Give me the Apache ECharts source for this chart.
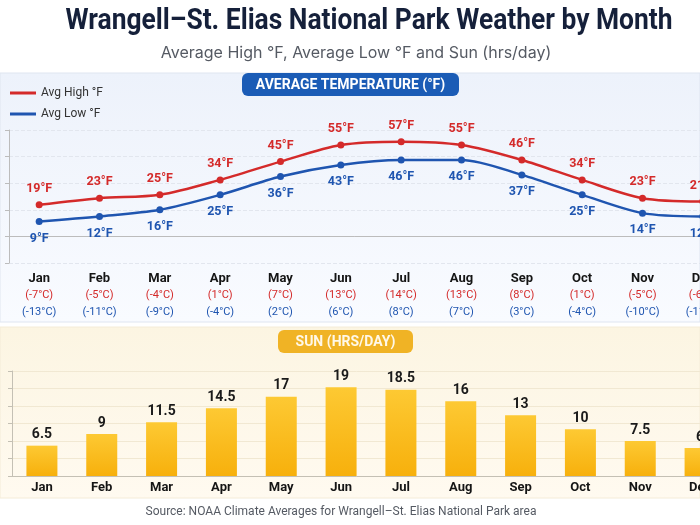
<!DOCTYPE html>
<html>
<head>
    <meta charset="utf-8">
    <title>Wrangell-St. Elias Weather</title>
    <script src="https://cdn.jsdelivr.net/npm/echarts@6/dist/echarts.min.js"></script>
    <style>
        html, body { margin: 0; padding: 0; background: #fff; }
        #main { width: 700px; height: 525px; }
    </style>
</head>
<body>
<div id="main"></div>
<script type="text/javascript">
    var months = ['Jan', 'Feb', 'Mar', 'Apr', 'May', 'Jun', 'Jul', 'Aug', 'Sep', 'Oct', 'Nov', 'Dec'];
    var highF = [19, 23, 25, 34, 45, 55, 57, 55, 46, 34, 23, 21];
    var lowF = [9, 12, 16, 25, 36, 43, 46, 46, 37, 25, 14, 12];
    var highC = [-7, -5, -4, 1, 7, 13, 14, 13, 8, 1, -5, -6];
    var lowC = [-13, -11, -9, -4, 2, 6, 8, 7, 3, -4, -10, -11];
    var sunHrs = [6.5, 9, 11.5, 14.5, 17, 19, 18.5, 16, 13, 10, 7.5, 6];

    var RED = '#d42a2a';
    var BLUE = '#1f55b0';
    var FONT = 'Roboto, "Noto Sans", sans-serif';

    var myChart = echarts.init(document.getElementById('main'));

    var option = {
        backgroundColor: '#ffffff',
        textStyle: { fontFamily: FONT },
        graphic: [
            // title + subtitle (title condensed by scaling)
            { type: 'text', x: 369, y: 22, scaleX: 0.91,
              style: { text: 'Wrangell–St. Elias National Park Weather by Month', fill: '#15203a', font: 'bold 29px Roboto, sans-serif', align: 'center', verticalAlign: 'middle' } },
            { type: 'text', x: 356, y: 53,
              style: { text: 'Average High °F, Average Low °F and Sun (hrs/day)', fill: '#555a63', font: '16px Inter, Roboto, sans-serif', align: 'center', verticalAlign: 'middle' } },
            // panel backgrounds
            { type: 'rect', z: -10, shape: { x: 0, y: 73, width: 700, height: 249 },
              style: { fill: new echarts.graphic.LinearGradient(0, 0, 0, 1, [{offset: 0, color: '#edf2fb'}, {offset: 1, color: '#f9fbff'}]), stroke: '#dfe5f0', lineWidth: 1 } },
            { type: 'rect', z: -10, shape: { x: 0, y: 327, width: 700, height: 171 },
              style: { fill: new echarts.graphic.LinearGradient(0, 0, 0, 1, [{offset: 0, color: '#fcf5e2'}, {offset: 1, color: '#fffaf0'}]), stroke: '#f4ecd8', lineWidth: 1 } },
            // header pills
            { type: 'rect', shape: { x: 242, y: 73, width: 217, height: 23, r: 6 }, style: { fill: '#1b5cb6' } },
            { type: 'text', x: 350.5, y: 85, style: { text: 'AVERAGE TEMPERATURE (°F)', fill: '#ffffff', font: 'bold 14px Roboto, sans-serif', align: 'center', verticalAlign: 'middle' } },
            { type: 'rect', shape: { x: 278, y: 330, width: 135, height: 23, r: 6 }, style: { fill: '#f0b325' } },
            { type: 'text', x: 345.5, y: 342, style: { text: 'SUN (HRS/DAY)', fill: '#fff8e8', font: 'bold 14px Roboto, sans-serif', align: 'center', verticalAlign: 'middle' } },
            // source line
            { type: 'text', x: 341, y: 512, style: { text: 'Source: NOAA Climate Averages for Wrangell–St. Elias National Park area', fill: '#555a63', font: '12px Roboto, sans-serif', align: 'center', verticalAlign: 'middle' } }
        ],
        legend: {
            orient: 'vertical',
            left: 5, top: 82,
            itemWidth: 26, itemHeight: 3, itemGap: 9,
            icon: 'rect',
            textStyle: { fontSize: 12, color: '#333' },
            data: ['Avg High °F', 'Avg Low °F']
        },
        grid: [
            { left: 9, top: 130, width: 724, height: 133, outerBoundsMode: 'none', containLabel: false },
            { left: 12, top: 371, width: 718, height: 105, outerBoundsMode: 'none', containLabel: false }
        ],
        xAxis: [
            {
                gridIndex: 0, type: 'category', data: months,
                axisLine: { lineStyle: { color: '#bcbcbc' } },
                axisTick: { show: false },
                axisLabel: {
                    margin: 7, interval: 0, hideOverlap: false,
                    formatter: function (v, i) {
                        return '{m|' + v + '}\n{h|(' + highC[i] + '°C)}\n{l|(' + lowC[i] + '°C)}';
                    },
                    rich: {
                        m: { fontSize: 13, fontWeight: 'bold', color: '#151515', lineHeight: 17 },
                        h: { fontSize: 11, color: RED, lineHeight: 16.5 },
                        l: { fontSize: 11, color: BLUE, lineHeight: 16.5 }
                    }
                }
            },
            {
                gridIndex: 1, type: 'category', data: months,
                axisLine: { lineStyle: { color: '#c4c0b4' } },
                axisTick: { show: false },
                axisLabel: { margin: 5, interval: 0, fontSize: 13, fontWeight: 'bold', color: '#151515' }
            }
        ],
        yAxis: [
            {
                gridIndex: 0, type: 'value', min: -16, max: 64, interval: 16,
                axisLine: { show: true, lineStyle: { color: '#bcbcbc' } },
                axisTick: { show: true, length: 4, lineStyle: { color: '#bcbcbc' } },
                axisLabel: { show: false },
                splitLine: { lineStyle: { color: '#e2e6ee', type: 'dashed' } }
            },
            {
                gridIndex: 1, type: 'value', min: 0, max: 22.5, interval: 3.75,
                axisLine: { show: true, lineStyle: { color: '#c4c0b4' } },
                axisTick: { show: true, length: 4, lineStyle: { color: '#c4c0b4' } },
                axisLabel: { show: false },
                splitLine: { lineStyle: { color: '#f1e8d2' } }
            }
        ],
        series: [
            {
                name: 'Avg High °F', type: 'line', xAxisIndex: 0, yAxisIndex: 0,
                data: highF, smooth: 0.3,
                symbol: 'circle', symbolSize: 7,
                itemStyle: { color: RED },
                lineStyle: { color: RED, width: 2.5 },
                label: { show: true, position: 'top', distance: 6, formatter: '{c}°F', fontSize: 12.5, fontWeight: 'bold', color: RED }
            },
            {
                name: 'Avg Low °F', type: 'line', xAxisIndex: 0, yAxisIndex: 0,
                data: lowF, smooth: 0.3,
                symbol: 'circle', symbolSize: 7,
                itemStyle: { color: BLUE },
                lineStyle: { color: BLUE, width: 2.5 },
                label: { show: true, position: 'bottom', distance: 7, formatter: '{c}°F', fontSize: 12.5, fontWeight: 'bold', color: BLUE }
            },
            {
                name: 'Sun', type: 'bar', xAxisIndex: 1, yAxisIndex: 1,
                data: sunHrs, barWidth: 31,
                itemStyle: {
                    color: new echarts.graphic.LinearGradient(0, 0, 0, 1, [
                        {offset: 0, color: '#fdc933'},
                        {offset: 1, color: '#f7b00c'}
                    ])
                },
                label: { show: true, position: 'top', distance: 4, fontSize: 14, fontWeight: 'bold', color: '#1a1a1a' }
            }
        ]
    };

    myChart.setOption(option);
</script>
</body>
</html>
